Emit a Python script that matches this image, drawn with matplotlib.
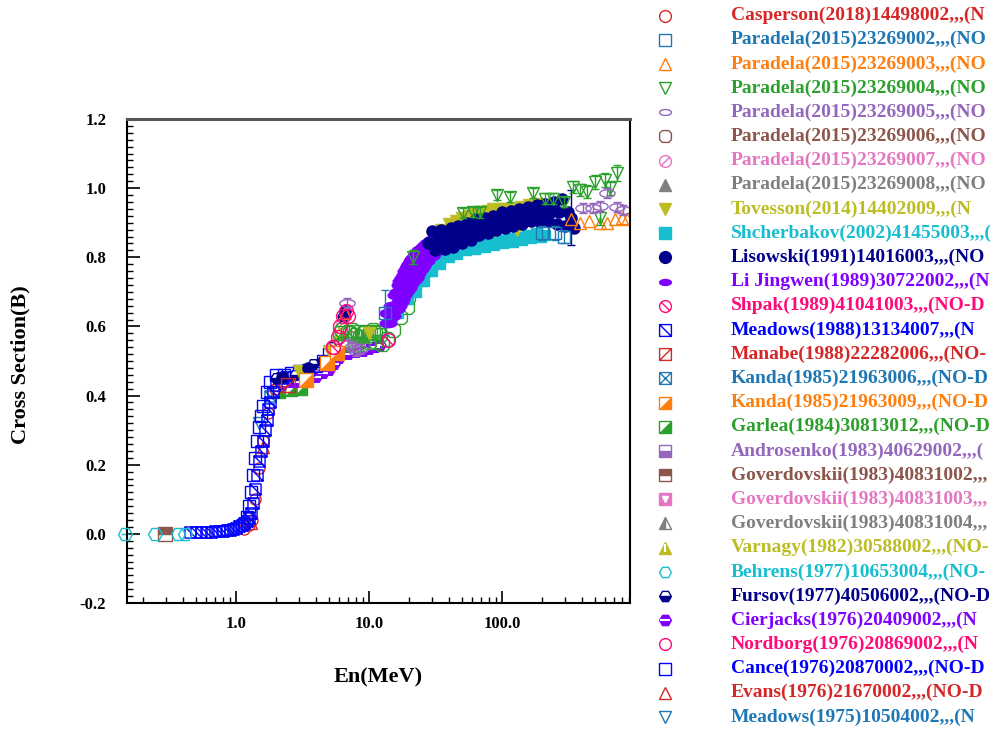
import numpy as np
import matplotlib
matplotlib.use("Agg")
import matplotlib.pyplot as plt
from matplotlib.path import Path
from matplotlib.ticker import FixedLocator, LogLocator, MultipleLocator, NullFormatter, FormatStrFormatter

plt.rcParams['font.family'] = ['Liberation Serif', 'DejaVu Serif']

# ---------------- data (E in MeV, cross section in b) ----------------
casperson_e = [1.15, 1.25, 1.32, 1.4, 1.5, 1.6, 1.75, 1.95, 2.2]
casperson_xs = [0.015, 0.025, 0.04, 0.10, 0.19, 0.27, 0.35, 0.42, 0.44]

paradela002_e = [13.2, 200, 250, 290]
paradela002_xs = [0.64, 0.87, 0.87, 0.86]
paradela002_err = [0.065, 0.02, 0.02, 0.02]

paradela003_e = [6.6, 330, 386, 450, 545, 615, 706, 800, 870]
paradela003_xs = [0.64, 0.91, 0.90, 0.905, 0.90, 0.90, 0.91, 0.915, 0.91]

paradela004_e = [21.4, 51, 60.5, 68, 92, 115, 171, 210, 241, 290, 342, 386, 435, 500, 545, 595, 650, 733]
paradela004_xs = [0.80, 0.928, 0.931, 0.93, 0.98, 0.975, 0.986, 0.97, 0.97, 0.96, 1.003, 0.995,
                  0.99, 1.018, 0.914, 1.024, 1.00, 1.044]
paradela004_err = [0.02, 0.015, 0.015, 0.015, 0.015, 0.015, 0.015, 0.015, 0.015, 0.015, 0.018, 0.018,
                   0.018, 0.02, 0.02, 0.02, 0.02, 0.022]

# green large open markers between 6 and 22 MeV
paradela004b_e = [6.05, 6.3, 6.6, 6.9, 7.2, 7.5, 7.85, 8.2, 8.6, 9.0, 9.3, 9.8, 10.2, 10.7, 11.1, 11.6,
                  12.1, 13.6, 15.1, 17.1, 19.3, 19.6, 21.4, 6.2, 7.0, 7.9, 8.9, 10.0, 11.3, 12.5]
paradela004b_xs = [0.58, 0.59, 0.56, 0.585, 0.58, 0.59, 0.575, 0.585, 0.57, 0.58, 0.585, 0.575, 0.585,
                   0.59, 0.58, 0.585, 0.575, 0.565, 0.59, 0.627, 0.656, 0.685, 0.74, 0.545, 0.55, 0.545,
                   0.55, 0.555, 0.555, 0.55]

paradela005_e = [6.8, 7.0, 7.5, 8.0, 8.6, 406, 483, 545, 615, 733, 813]
paradela005_xs = [0.668, 0.55, 0.54, 0.53, 0.535, 0.943, 0.943, 0.947, 0.986, 0.946, 0.937]

paradela006_e = [7.5]
paradela006_xs = [0.57]
paradela007_e = [6.3]
paradela007_xs = [0.61]
paradela008_e = [9.0]
paradela008_xs = [0.57]

tovesson_e = [3, 5, 10, 20, 30, 35, 40, 45, 50, 56, 62, 70, 78, 86, 95, 105, 120, 140, 160, 190, 88, 130]
tovesson_xs = [0.47, 0.53, 0.58, 0.76, 0.86, 0.88, 0.895, 0.905, 0.915, 0.92, 0.925, 0.93, 0.935, 0.94,
               0.94, 0.94, 0.94, 0.945, 0.95, 0.955, 0.875, 0.88]

shcherbakov_e = [15, 16.5, 18, 19.5, 21, 22.5, 24, 26, 28, 30, 32, 34, 37, 40, 43, 46, 50, 54, 58, 63, 68,
                 74, 80, 87, 94, 102, 110, 120, 130, 141, 153, 166, 180, 195, 210]
shcherbakov_xs = [0.63, 0.64, 0.68, 0.68, 0.71, 0.70, 0.73, 0.73, 0.76, 0.76, 0.79, 0.78, 0.81, 0.80, 0.825,
                  0.81, 0.835, 0.82, 0.84, 0.825, 0.845, 0.83, 0.85, 0.835, 0.85, 0.84, 0.855, 0.845, 0.86,
                  0.85, 0.865, 0.855, 0.87, 0.86, 0.865]

lisowski_e = [28, 30, 31.5, 33, 35, 37, 39, 41, 43, 45, 47, 50, 52, 55, 58, 61, 64, 67, 70, 74, 78, 82, 86,
              90, 95, 100, 105, 110, 116, 122, 128, 135, 142, 149, 157, 165, 173, 182, 191, 201, 211, 222,
              233, 245, 257, 270, 284, 298, 313, 329, 345, 2.2, 3.5, 4.5, 6.6]
lisowski_xs = [0.84, 0.875, 0.82, 0.85, 0.88, 0.825, 0.855, 0.885, 0.83, 0.86, 0.89, 0.84, 0.87, 0.90, 0.85,
               0.88, 0.91, 0.865, 0.89, 0.915, 0.87, 0.895, 0.92, 0.88, 0.905, 0.93, 0.885, 0.91, 0.935,
               0.89, 0.915, 0.94, 0.895, 0.92, 0.945, 0.905, 0.925, 0.95, 0.905, 0.93, 0.955, 0.905, 0.93,
               0.96, 0.895, 0.93, 0.97, 0.89, 0.93, 0.915, 0.885, 0.455, 0.48, 0.50, 0.645]
lisowski_errpt_e = [329]
lisowski_errpt_xs = [0.915]
lisowski_errpt_err = [0.08]

lijingwen_e = [14, 15, 16, 16.5, 17, 17.5, 18, 18.5, 19, 19.5, 20, 20.5, 21, 21.5, 22, 22.5, 23, 24, 25, 26,
               27, 28, 29, 30, 31, 32, 33,
               14, 15, 16, 16.5, 17, 17.5, 18, 18.5, 19, 19.5, 20, 20.5, 21, 21.5, 22, 22.5, 23, 24, 25, 26,
               27, 28, 29, 30, 31, 32, 33]
lijingwen_xs = [0.64, 0.66, 0.69, 0.70, 0.72, 0.73, 0.74, 0.75, 0.76, 0.77, 0.775, 0.78, 0.79, 0.795, 0.80,
                0.805, 0.81, 0.82, 0.825, 0.83, 0.835, 0.84, 0.845, 0.85, 0.85, 0.85, 0.845,
                0.61, 0.63, 0.65, 0.66, 0.67, 0.68, 0.69, 0.70, 0.705, 0.71, 0.72, 0.725, 0.73, 0.735, 0.74,
                0.75, 0.755, 0.765, 0.775, 0.785, 0.79, 0.80, 0.805, 0.81, 0.815, 0.82, 0.82]

shpak_e = [5.4, 13.9]
shpak_xs = [0.54, 0.56]

meadows88_e = [0.45, 0.5, 0.55, 0.6, 0.65, 0.7, 0.75, 0.8, 0.85, 0.9, 0.95, 1.0, 1.05, 1.1, 1.15, 1.2, 1.25,
               1.3, 1.35, 1.4, 1.45, 1.5, 1.55, 1.6, 1.65, 1.7, 1.75, 1.8, 1.9, 2.0, 2.2, 2.4]
meadows88_xs = [0.004, 0.004, 0.005, 0.005, 0.006, 0.007, 0.008, 0.009, 0.010, 0.012, 0.014, 0.018, 0.022,
                0.026, 0.03, 0.036, 0.045, 0.06, 0.09, 0.13, 0.17, 0.21, 0.24, 0.27, 0.30, 0.33, 0.36,
                0.38, 0.41, 0.43, 0.45, 0.455]

manabe_e = [2.46]
manabe_xs = [0.43]

kanda006_e = [1.8]
kanda006_xs = [0.40]

kanda009_e = [3.36, 4.8, 5.7]
kanda009_xs = [0.445, 0.494, 0.523]

garlea_e = [2.1, 2.6, 3.1]
garlea_xs = [0.41, 0.415, 0.42]

androsenko_e = [2.7]
androsenko_xs = [0.455]

goverdovskii002_e = [0.293]
goverdovskii002_xs = [0.0]
goverdovskii003_e = [4.2]
goverdovskii003_xs = [0.48]
goverdovskii004_e = [3.0]
goverdovskii004_xs = [0.46]

varnagy_e = [6.0]
varnagy_xs = [0.58]

behrens_e = [0.146, 0.246, 0.367, 0.414]
behrens_xs = [0.0, 0.0, 0.0, 0.0]

fursov_e = [2.0, 2.8, 3.8, 5.2, 6.4]
fursov_xs = [0.45, 0.46, 0.49, 0.54, 0.63]

cierjacks_e = [2.2, 2.6, 3.0, 3.5, 4.0, 4.5, 5.0, 5.5, 6.0, 7.0, 8.0, 9.0, 10, 11, 12]
cierjacks_xs = [0.43, 0.44, 0.44, 0.45, 0.455, 0.465, 0.475, 0.49, 0.51, 0.52, 0.525, 0.53, 0.535, 0.54, 0.545]

nordborg_e = [5.4, 5.8, 6.1, 6.4, 6.7, 7.0]
nordborg_xs = [0.54, 0.57, 0.60, 0.63, 0.645, 0.63]

cance_e = [1.2, 1.25, 1.3, 1.35, 1.4, 1.45, 1.5, 1.55, 1.6, 1.7, 1.8, 2.0, 2.3, 2.6, 3.0, 3.5, 4.0, 4.5, 5.0]
cance_xs = [0.05, 0.08, 0.12, 0.17, 0.22, 0.27, 0.31, 0.34, 0.37, 0.41, 0.44, 0.46, 0.46, 0.465, 0.47, 0.475,
            0.485, 0.50, 0.52]

evans_e = [1.3, 1.6, 2.0, 6.6]
evans_xs = [0.03, 0.25, 0.43, 0.645]

meadows75_e = [1.5, 2.5, 4.0]
meadows75_xs = [0.32, 0.45, 0.48]

x_ticks = [1, 10, 100]
x_ticklabels = ['1.0', '10.0', '100.0']

# legend labels as far as they are visible in the reference
legend_labels = [
    'Casperson(2018)14498002,,,(N', 'Paradela(2015)23269002,,,(NO', 'Paradela(2015)23269003,,,(NO',
    'Paradela(2015)23269004,,,(NO', 'Paradela(2015)23269005,,,(NO', 'Paradela(2015)23269006,,,(NO',
    'Paradela(2015)23269007,,,(NO', 'Paradela(2015)23269008,,,(NO', 'Tovesson(2014)14402009,,,(N',
    'Shcherbakov(2002)41455003,,,(', 'Lisowski(1991)14016003,,,(NO', 'Li Jingwen(1989)30722002,,,(N',
    'Shpak(1989)41041003,,,(NO-D', 'Meadows(1988)13134007,,,(N', 'Manabe(1988)22282006,,,(NO-',
    'Kanda(1985)21963006,,,(NO-D', 'Kanda(1985)21963009,,,(NO-D', 'Garlea(1984)30813012,,,(NO-D',
    'Androsenko(1983)40629002,,,(', 'Goverdovskii(1983)40831002,,,', 'Goverdovskii(1983)40831003,,,',
    'Goverdovskii(1983)40831004,,,', 'Varnagy(1982)30588002,,,(NO-', 'Behrens(1977)10653004,,,(NO-',
    'Fursov(1977)40506002,,,(NO-D', 'Cierjacks(1976)20409002,,,(N', 'Nordborg(1976)20869002,,,(N',
    'Cance(1976)20870002,,,(NO-D', 'Evans(1976)21670002,,,(NO-D', 'Meadows(1975)10504002,,,(N',
]

# ---------------- marker shapes ----------------
SQ = [(-1, -1), (1, -1), (1, 1), (-1, 1), (-1, -1)]
sq_codes = [Path.MOVETO] + [Path.LINETO] * 3 + [Path.CLOSEPOLY]


def square_with(lines):
    verts = list(SQ)
    codes = list(sq_codes)
    for a, b in lines:
        verts += [a, b]
        codes += [Path.MOVETO, Path.LINETO]
    return Path(verts, codes)


sq_slash_dn = square_with([((-1, 1), (1, -1))])
sq_slash_up = square_with([((-1, -1), (1, 1))])
sq_x = square_with([((-1, 1), (1, -1)), ((-1, -1), (1, 1))])
circ = Path.unit_circle()
circ_slash_up = Path.make_compound_path(circ, Path([(-0.7, -0.7), (0.7, 0.7)], [Path.MOVETO, Path.LINETO]))
circ_slash_dn = Path.make_compound_path(circ, Path([(-0.7, 0.7), (0.7, -0.7)], [Path.MOVETO, Path.LINETO]))
ellipse = Path(circ.vertices * np.array([1.0, 0.5]), circ.codes)
rsq = Path([(-1, -0.55), (-0.55, -1), (0.55, -1), (1, -0.55), (1, 0.55), (0.55, 1), (-0.55, 1), (-1, 0.55),
            (-1, -0.55)], [Path.MOVETO] + [Path.LINETO] * 7 + [Path.CLOSEPOLY])
lr_tri = Path([(-1, -1), (1, -1), (1, 1), (-1, -1)], [Path.MOVETO, Path.LINETO, Path.LINETO, Path.CLOSEPOLY])
sq_outline = Path(SQ, sq_codes)

C_RED = '#d62728'; C_BLUE = '#1f77b4'; C_ORANGE = '#ff7f0e'; C_GREEN = '#2ca02c'
C_PURPLE = '#9467bd'; C_BROWN = '#8c564b'; C_PINK = '#e377c2'; C_GRAY = '#7f7f7f'
C_OLIVE = '#bcbd22'; C_CYAN = '#17becf'; C_NAVY = '#00008b'; C_VIOLET = '#7f00ff'
C_DPINK = '#ff0a7a'; C_PBLUE = '#0000ff'


def draw(ax, x, y, st, ms, zorder=2, clip=True):
    kind = st['kind']
    c = st['c']
    m = st['m']
    common = dict(linestyle='none', markersize=ms, zorder=zorder, clip_on=clip)
    if kind == 'open':
        ax.plot(x, y, marker=m, mfc='none', mec=c, mew=1.0, **common)
    elif kind == 'filled':
        ax.plot(x, y, marker=m, mfc=c, mec=c, mew=1.0, **common)
    elif kind == 'half':
        ax.plot(x, y, marker=m, fillstyle=st['fs'], mfc=c, mfcalt='white', mec=c, mew=1.0, **common)
    elif kind == 'trifill':
        ax.plot(x, y, marker=sq_outline, mfc='white', mec=c, mew=1.0, **common)
        ax.plot(x, y, marker=lr_tri, mfc=c, mec=c, mew=0.5, **common)
    elif kind == 'overlay':
        ax.plot(x, y, marker=m, mfc=c, mec=c, mew=1.0, **common)
        common2 = dict(common)
        common2['markersize'] = ms * st['f2']
        ax.plot(x, y, marker=st['m2'], mfc='white', mec='white', mew=st.get('w2', 1.0), **common2)


series = [
    ('Casperson(2018)14498002', casperson_e, casperson_xs, dict(kind='open', m='o', c=C_RED)),
    ('Paradela(2015)23269002', paradela002_e, paradela002_xs, dict(kind='open', m='s', c=C_BLUE)),
    ('Paradela(2015)23269003', paradela003_e, paradela003_xs, dict(kind='open', m='^', c=C_ORANGE)),
    ('Paradela(2015)23269004', paradela004_e, paradela004_xs, dict(kind='open', m='v', c=C_GREEN)),
    ('Paradela(2015)23269005', paradela005_e, paradela005_xs, dict(kind='open', m=ellipse, c=C_PURPLE)),
    ('Paradela(2015)23269006', paradela006_e, paradela006_xs, dict(kind='open', m=rsq, c=C_BROWN)),
    ('Paradela(2015)23269007', paradela007_e, paradela007_xs, dict(kind='open', m=circ_slash_up, c=C_PINK)),
    ('Paradela(2015)23269008', paradela008_e, paradela008_xs, dict(kind='filled', m='^', c=C_GRAY)),
    ('Tovesson(2014)14402009', tovesson_e, tovesson_xs, dict(kind='filled', m='v', c=C_OLIVE)),
    ('Shcherbakov(2002)41455003', shcherbakov_e, shcherbakov_xs, dict(kind='filled', m='s', c=C_CYAN)),
    ('Lisowski(1991)14016003', lisowski_e, lisowski_xs, dict(kind='filled', m='o', c=C_NAVY)),
    ('Li Jingwen(1989)30722002', lijingwen_e, lijingwen_xs, dict(kind='filled', m=ellipse, c=C_VIOLET)),
    ('Shpak(1989)41041003', shpak_e, shpak_xs, dict(kind='open', m=circ_slash_dn, c=C_DPINK)),
    ('Meadows(1988)13134007', meadows88_e, meadows88_xs, dict(kind='open', m=sq_slash_dn, c=C_PBLUE)),
    ('Manabe(1988)22282006', manabe_e, manabe_xs, dict(kind='open', m=sq_slash_up, c=C_RED)),
    ('Kanda(1985)21963006', kanda006_e, kanda006_xs, dict(kind='open', m=sq_x, c=C_BLUE)),
    ('Kanda(1985)21963009', kanda009_e, kanda009_xs, dict(kind='trifill', m='s', c=C_ORANGE)),
    ('Garlea(1984)30813012', garlea_e, garlea_xs, dict(kind='trifill', m='s', c=C_GREEN)),
    ('Androsenko(1983)40629002', androsenko_e, androsenko_xs, dict(kind='half', m='s', fs='bottom', c=C_PURPLE)),
    ('Goverdovskii(1983)40831002', goverdovskii002_e, goverdovskii002_xs, dict(kind='half', m='s', fs='top', c=C_BROWN)),
    ('Goverdovskii(1983)40831003', goverdovskii003_e, goverdovskii003_xs, dict(kind='overlay', m='s', m2='v', f2=0.55, c=C_PINK)),
    ('Goverdovskii(1983)40831004', goverdovskii004_e, goverdovskii004_xs, dict(kind='half', m='^', fs='left', c=C_GRAY)),
    ('Varnagy(1982)30588002', varnagy_e, varnagy_xs, dict(kind='overlay', m='^', m2='|', f2=0.6, w2=1.5, c=C_OLIVE)),
    ('Behrens(1977)10653004', behrens_e, behrens_xs, dict(kind='open', m='H', c=C_CYAN)),
    ('Fursov(1977)40506002', fursov_e, fursov_xs, dict(kind='half', m='H', fs='bottom', c=C_NAVY)),
    ('Cierjacks(1976)20409002', cierjacks_e, cierjacks_xs, dict(kind='overlay', m='H', m2='_', f2=0.9, w2=1.5, c=C_VIOLET)),
    ('Nordborg(1976)20869002', nordborg_e, nordborg_xs, dict(kind='open', m='o', c=C_DPINK)),
    ('Cance(1976)20870002', cance_e, cance_xs, dict(kind='open', m='s', c=C_PBLUE)),
    ('Evans(1976)21670002', evans_e, evans_xs, dict(kind='open', m='^', c=C_RED)),
    ('Meadows(1975)10504002', meadows75_e, meadows75_xs, dict(kind='open', m='v', c=C_BLUE)),
]
style = {s[0]: s[3] for s in series}
data_of = {s[0]: (s[1], s[2]) for s in series}

# ---------------- figure ----------------
W, H = 993, 731
fig = plt.figure(figsize=(W / 100, H / 100), dpi=100)
ax = fig.add_axes([127 / W, 1 - 603 / H, 503 / W, 484 / H])
ax.set_xscale('log')
ax.set_xlim(0.1515, 917)
ax.set_ylim(-0.2, 1.2)

MS = 8
draw_order = ['Paradela(2015)23269006', 'Paradela(2015)23269007', 'Paradela(2015)23269008',
              'Goverdovskii(1983)40831003', 'Goverdovskii(1983)40831004', 'Androsenko(1983)40629002',
              'Varnagy(1982)30588002', 'Kanda(1985)21963006', 'Meadows(1975)10504002',
              'Garlea(1984)30813012', 'Cierjacks(1976)20409002', 'Casperson(2018)14498002',
              'Evans(1976)21670002']
for key in draw_order:
    e, xs = data_of[key]
    draw(ax, e, xs, style[key], MS)

# green large open markers (6-22 MeV)
draw(ax, paradela004b_e, paradela004b_xs, dict(kind='open', m=rsq, c=C_GREEN), 10)

for key in ['Cance(1976)20870002', 'Meadows(1988)13134007', 'Fursov(1977)40506002']:
    e, xs = data_of[key]
    draw(ax, e, xs, style[key], MS)

draw(ax, shcherbakov_e, shcherbakov_xs, style['Shcherbakov(2002)41455003'], 7)
draw(ax, tovesson_e, tovesson_xs, style['Tovesson(2014)14402009'], 8)
draw(ax, lijingwen_e, lijingwen_xs, style['Li Jingwen(1989)30722002'], 12)
draw(ax, lisowski_e, lisowski_xs, style['Lisowski(1991)14016003'], 8)
ax.errorbar(lisowski_errpt_e, lisowski_errpt_xs, yerr=lisowski_errpt_err, fmt='none', ecolor=C_NAVY,
            elinewidth=1, capsize=3)

ax.errorbar(paradela002_e, paradela002_xs, yerr=paradela002_err, fmt='none', ecolor=C_BLUE,
            elinewidth=1, capsize=3)
draw(ax, paradela002_e, paradela002_xs, style['Paradela(2015)23269002'], 9)
draw(ax, paradela003_e, paradela003_xs, style['Paradela(2015)23269003'], 9)
ax.errorbar(paradela004_e, paradela004_xs, yerr=paradela004_err, fmt='none', ecolor=C_GREEN,
            elinewidth=1, capsize=3)
draw(ax, paradela004_e, paradela004_xs, style['Paradela(2015)23269004'], 9)
ax.errorbar(paradela005_e, paradela005_xs, yerr=[0.015] * len(paradela005_e), fmt='none', ecolor=C_PURPLE,
            elinewidth=1, capsize=3)
draw(ax, paradela005_e, paradela005_xs, style['Paradela(2015)23269005'], 11)

for key in ['Kanda(1985)21963009', 'Manabe(1988)22282006', 'Shpak(1989)41041003', 'Nordborg(1976)20869002',
            'Goverdovskii(1983)40831002']:
    e, xs = data_of[key]
    draw(ax, e, xs, style[key], 10)
ax.errorbar(behrens_e[:1], behrens_xs[:1], xerr=[[0.01], [0.012]], fmt='none', ecolor=C_CYAN,
            elinewidth=1, clip_on=False)
draw(ax, behrens_e, behrens_xs, style['Behrens(1977)10653004'], 10, zorder=4, clip=False)

# axes styling
ax.xaxis.set_major_locator(FixedLocator(x_ticks))
ax.set_xticklabels(x_ticklabels)
ax.xaxis.set_minor_locator(LogLocator(base=10, subs=np.arange(2, 10)))
ax.xaxis.set_minor_formatter(NullFormatter())
ax.yaxis.set_major_locator(MultipleLocator(0.2))
ax.yaxis.set_minor_locator(MultipleLocator(0.02))
ax.yaxis.set_major_formatter(FormatStrFormatter('%.1f'))
ax.tick_params(which='both', direction='in', top=False, right=False, color='black')
ax.tick_params(which='major', length=9, width=1.2)
ax.tick_params(which='minor', length=4, width=1.0)
ax.tick_params(axis='x', which='major', pad=9)
ax.tick_params(axis='y', which='major', pad=15)
for lab in ax.get_xticklabels() + ax.get_yticklabels():
    lab.set_fontsize(12)
    lab.set_fontweight('bold')
for side in ['left', 'bottom', 'right']:
    ax.spines[side].set_color('black')
    ax.spines[side].set_linewidth(1.5)
ax.spines['top'].set_color('#555555')
ax.spines['top'].set_linewidth(2.2)

fig.text(378 / W, 1 - 677 / H, 'En(MeV)', ha='center', va='center', fontsize=16, fontweight='bold')
fig.text(20 / W, 1 - 365 / H, 'Cross Section(B)', ha='center', va='center', rotation=90, fontsize=16,
         fontweight='bold')

# legend (drawn in pixel coordinates)
lax = fig.add_axes([0, 0, 1, 1])
lax.set_xlim(0, W)
lax.set_ylim(H, 0)
lax.axis('off')
n = len(series)
for i, ((key, e, xs, st), label) in enumerate(zip(series, legend_labels)):
    y = 15.5 + i * (717 - 15.5) / (n - 1)
    draw(lax, [665], [y], st, 8.5, zorder=3)
    lax.text(731, y, label, color=st['c'], fontsize=14, fontweight='bold', va='center', ha='left',
             clip_on=False)

fig.savefig('out.png', dpi=100)
